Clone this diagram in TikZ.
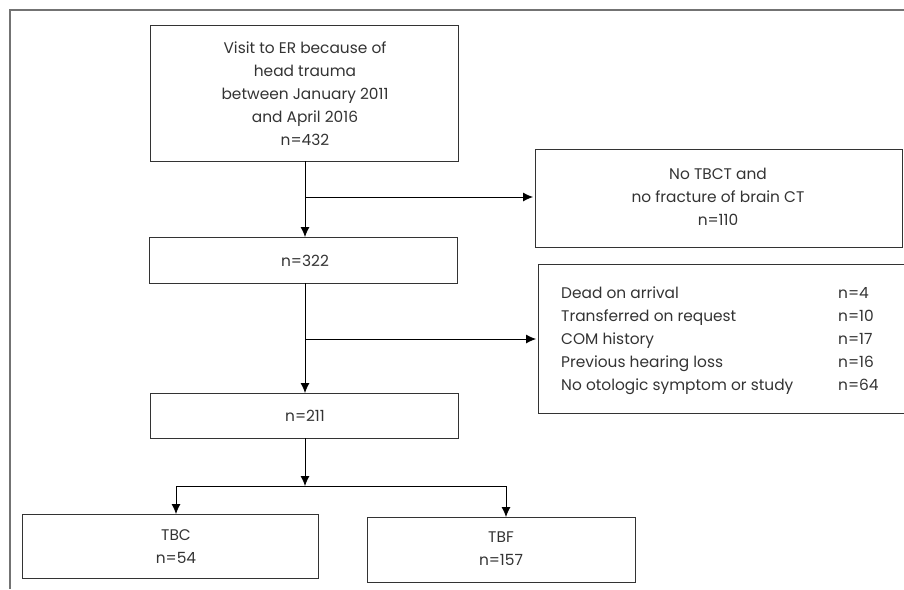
\documentclass[tikz,border=0pt]{standalone}
\usepackage{fontspec}
\setmainfont{Poppins}
\usetikzlibrary{arrows.meta}
\begin{document}
\begin{tikzpicture}[x=1pt,y=-1pt,
  box/.style={draw=black!80,line width=0.8pt,inner sep=0pt},
  txt/.style={text=black!80,font=\fontsize{15.4}{23}\selectfont,align=center,inner sep=0pt},
  ltxt/.style={text=black!80,font=\fontsize{15.4}{23}\selectfont,anchor=base west,inner sep=0pt},
  arr/.style={draw=black,line width=0.8pt,-{Latex[length=10pt,width=9pt]}},
  ln/.style={draw=black,line width=0.8pt},
  frame/.style={draw=black!55,line width=1.2pt}]
\useasboundingbox (0,0) rectangle (904,589);
% frame (top and left only)
\draw[frame] (904,10) -- (10,10) -- (10,589);
% boxes
\draw[box] (150,25) rectangle (458,161);
\node[txt] (t1) at (305,94) {Visit to ER because of\\head trauma\\between January 2011\\and April 2016\\n=432};
\draw[box] (535,149) rectangle (902,247);
\node[txt] (t2) at (718,197) {No TBCT and\\no fracture of brain CT\\n=110};
\draw[box] (149,237) rectangle (457,283);
\node[txt] (t3) at (305,261) {n=322};
\draw[box] (538,413) -- (538,264) -- (904,264);
\draw[box] (538,413) -- (904,413);
\node[ltxt] (l1) at (561,298) {Dead on arrival};
\node[ltxt] (l2) at (561,321) {Transferred on request};
\node[ltxt] (l3) at (561,344) {COM history};
\node[ltxt] (l4) at (561,367) {Previous hearing loss};
\node[ltxt] (l5) at (561,390) {No otologic symptom or study};
\node[ltxt] (m1) at (838,298) {n=4};
\node[ltxt] (m2) at (838,321) {n=10};
\node[ltxt] (m3) at (838,344) {n=17};
\node[ltxt] (m4) at (838,367) {n=16};
\node[ltxt] (m5) at (838,390) {n=64};
\draw[box] (150,393) rectangle (458,438);
\node[txt] (t4) at (305,416) {n=211};
\draw[box] (22,514) rectangle (318,578);
\node[txt] (t5) at (176,547) {TBC\\n=54};
\draw[box] (367,517) rectangle (635,582);
\node[txt] (t6) at (501,549) {TBF\\n=157};
% connectors
\coordinate (a1) at (305,161);
\coordinate (a2) at (305,237);
\coordinate (b1) at (305,197);
\coordinate (b2) at (533,197);
\draw[arr] (a1) -- (a2);
\draw[arr] (b1) -- (b2);
\coordinate (c1) at (305,283);
\coordinate (c2) at (305,393);
\coordinate (d1) at (305,339);
\coordinate (d2) at (536,339);
\draw[arr] (c1) -- (c2);
\draw[arr] (d1) -- (d2);
\coordinate (e1) at (305,438);
\coordinate (e2) at (305,486);
\coordinate (fl) at (176,486);
\coordinate (fr) at (506,486);
\coordinate (gl) at (176,514);
\coordinate (gr) at (506,517);
\draw[arr] (e1) -- (e2);
\draw[ln] (fl) -- (fr);
\draw[arr] (fl) -- (gl);
\draw[arr] (fr) -- (gr);
\end{tikzpicture}
\end{document}
